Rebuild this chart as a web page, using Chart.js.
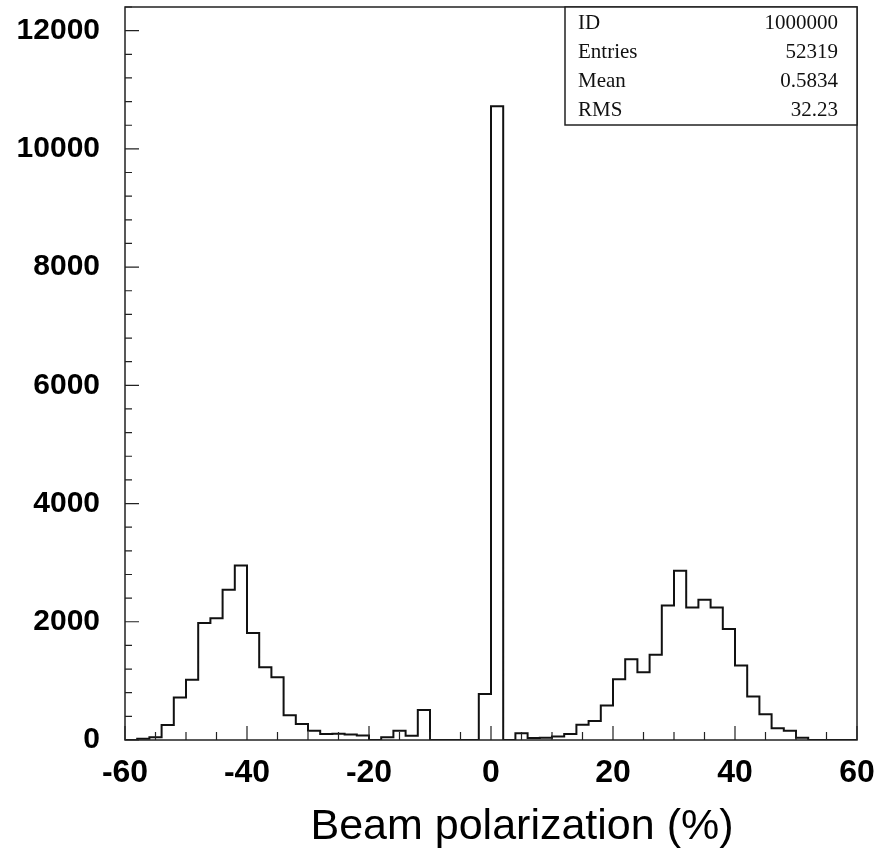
<!DOCTYPE html>
<html>
<head>
<meta charset="utf-8">
<script src="https://cdn.jsdelivr.net/npm/chart.js@4.4.1/dist/chart.umd.min.js"></script>
<style>
  html, body { margin: 0; padding: 0; background: #fff; }
  #wrap { width: 878px; height: 850px; }
</style>
</head>
<body>
<div id="wrap"><canvas id="hist" width="878" height="850"></canvas></div>
<script>
// lower edge of each 2% bin
var binLow = [-60, -58, -56, -54, -52, -50, -48, -46, -44, -42,
              -40, -38, -36, -34, -32, -30, -28, -26, -24, -22,
              -20, -18, -16, -14, -12, -10, -8, -6, -4, -2,
              0, 2, 4, 6, 8, 10, 12, 14, 16, 18,
              20, 22, 24, 26, 28, 30, 32, 34, 36, 38,
              40, 42, 44, 46, 48, 50, 52, 54, 56, 58];
var binHigh = 60;

// entries per bin
var counts = [0, 20, 45, 255, 720, 1020, 1980, 2060, 2540, 2950,
              1810, 1230, 1060, 420, 270, 155, 100, 105, 95, 75,
              0, 45, 158, 73, 508, 0, 0, 0, 0, 780,
              10720, 0, 113, 35, 40, 60, 100, 260, 322, 582,
              1028, 1367, 1147, 1441, 2277, 2865, 2243, 2373, 2243, 1876,
              1260, 735, 435, 198, 158, 40, 0, 0, 0, 0];

var statLabels = ['ID', 'Entries', 'Mean', 'RMS'];
var statValues = ['1000000', '52319', '0.5834', '32.23'];
var xTitle = 'Beam polarization (%)';

// step outline: one point per bin edge
var points = binLow.map(function(x, i) { return {x: x, y: counts[i]}; });
points.push({x: binHigh, y: 0});

var frameAndTicks = {
    id: 'frameAndTicks',
    afterDatasetsDraw: function(chart) {
        const ctx = chart.ctx;
        const a = chart.chartArea;
        const xs = chart.scales.x;
        const ys = chart.scales.y;
        ctx.save();
        ctx.strokeStyle = '#222';
        ctx.lineWidth = 1.5;
        ctx.strokeRect(a.left, a.top, a.right - a.left, a.bottom - a.top);

        // inward tick marks
        ctx.lineWidth = 1.2;
        ctx.beginPath();
        xs.ticks.forEach(t => {
            const px = xs.getPixelForValue(t.value);
            const len = (t.value % 20 === 0) ? 14 : 8;
            ctx.moveTo(px, a.bottom);
            ctx.lineTo(px, a.bottom - len);
        });
        ys.ticks.forEach(t => {
            const py = ys.getPixelForValue(t.value);
            const len = (t.value % 2000 === 0) ? 14 : 7;
            ctx.moveTo(a.left, py);
            ctx.lineTo(a.left + len, py);
        });
        ctx.stroke();

        // stats box
        const bx = 565, by = a.top, bw = a.right - 565, bh = 118;
        ctx.fillStyle = '#fff';
        ctx.fillRect(bx, by, bw, bh);
        ctx.lineWidth = 1.5;
        ctx.strokeRect(bx, by, bw, bh);
        ctx.fillStyle = '#111';
        ctx.font = '21px "Liberation Serif", "Times New Roman", serif';
        ctx.textBaseline = 'alphabetic';
        for (let i = 0; i < statLabels.length; i++) {
            const yy = by + 22 + i * 29;
            ctx.textAlign = 'left';
            ctx.fillText(statLabels[i], bx + 13, yy);
            ctx.textAlign = 'right';
            ctx.fillText(statValues[i], bx + bw - 19, yy);
        }

        // axis title
        ctx.fillStyle = '#000';
        ctx.font = '43px "Liberation Sans", Arial, sans-serif';
        ctx.textAlign = 'center';
        ctx.fillText(xTitle, 522, 839);
        ctx.restore();
    }
};

new Chart(document.getElementById('hist'), {
    type: 'line',
    data: {
        datasets: [{
            data: points,
            stepped: 'before',
            borderColor: '#111',
            borderWidth: 2,
            pointRadius: 0,
            fill: false
        }]
    },
    options: {
        responsive: false,
        animation: false,
        layout: { padding: { top: 7, right: 21, left: 0, bottom: 0 } },
        plugins: {
            legend: { display: false },
            tooltip: { enabled: false }
        },
        scales: {
            x: {
                type: 'linear',
                min: -60,
                max: 60,
                afterFit: function(s) { s.height = 110; s.paddingLeft = 0; s.paddingRight = 0; },
                grid: { display: false },
                border: { display: false },
                ticks: {
                    stepSize: 5,
                    autoSkip: false,
                    maxRotation: 0,
                    padding: 6,
                    color: '#000',
                    font: { family: '"Liberation Sans", Arial, sans-serif', size: 32, weight: 'bold' },
                    callback: function(v) { return v % 20 === 0 ? v : ''; }
                }
            },
            y: {
                min: 0,
                max: 12400,
                afterFit: function(s) { s.width = 125; s.paddingTop = 0; s.paddingBottom = 0; },
                grid: { display: false },
                border: { display: false },
                ticks: {
                    stepSize: 400,
                    autoSkip: false,
                    padding: 17,
                    color: '#000',
                    font: { family: '"Liberation Sans", Arial, sans-serif', size: 30, weight: 'bold' },
                    callback: function(v) { return v % 2000 === 0 ? v : ''; }
                }
            }
        }
    },
    plugins: [frameAndTicks]
});
</script>
</body>
</html>
